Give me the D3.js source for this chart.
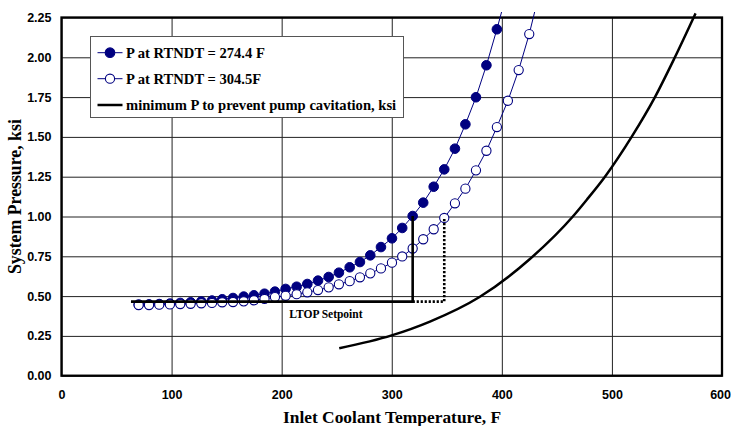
<!DOCTYPE html>
<html>
<head>
<meta charset="utf-8">
<script src="https://cdn.jsdelivr.net/npm/d3@7"></script>
<style>
  body { margin: 0; background: #fff; }
  svg { display: block; font-family: "Liberation Serif", "Times New Roman", serif; font-weight: bold; }
</style>
</head>
<body>
<svg id="chart" width="731" height="426"></svg>
<script>
// Inlet temperatures (F) shared by both P-T curves
const temps = [70.1, 79.5, 88.8, 98.5, 107.9, 117.3, 127.0, 136.7, 146.0, 155.8,
  165.5, 174.8, 184.4, 193.9, 203.6, 213.6, 223.3, 233.0, 242.7, 252.0,
  261.8, 271.1, 280.5, 290.2, 300.2, 309.5, 319.0, 328.6, 338.1, 347.7,
  357.4, 366.9, 376.5, 386.0, 395.5, 405.5, 415.3, 424.9, 434.6];

// P at RTNDT = 274.4 F (filled markers)
const pFilled = [0.447, 0.448, 0.450, 0.453, 0.457, 0.461, 0.466, 0.472, 0.480, 0.488,
  0.497, 0.505, 0.515, 0.528, 0.545, 0.559, 0.576, 0.597, 0.620, 0.647,
  0.681, 0.714, 0.756, 0.808, 0.863, 0.928, 1.003, 1.087, 1.187, 1.296,
  1.426, 1.579, 1.749, 1.950, 2.176, 2.430];

// P at RTNDT = 304.5 F (open markers)
const pOpen = [0.444, 0.444, 0.446, 0.448, 0.450, 0.452, 0.455, 0.457, 0.461, 0.463,
  0.467, 0.474, 0.482, 0.494, 0.502, 0.512, 0.524, 0.538, 0.555, 0.574,
  0.594, 0.618, 0.643, 0.674, 0.710, 0.749, 0.799, 0.857, 0.920, 0.991,
  1.083, 1.175, 1.290, 1.413, 1.562, 1.727, 1.920, 2.146, 2.420];

// minimum P to prevent pump cavitation
const pumpT = [252.3, 299.9, 334.7, 380.1, 425.5, 464.5, 477.0, 493.7, 517.9, 539.1, 557.2, 576.0];
const pumpP = [0.172, 0.253, 0.340, 0.496, 0.733, 1.000, 1.104, 1.250, 1.500, 1.750, 2.000, 2.276];

// LTOP setpoint construction
const ltopStartT = 63.1;
const ltopP = 0.465;
const ltopIdx = 26;      // filled curve reaches 1.0 ksi
const ltopIdxOpen = 29;  // open curve reaches 1.0 ksi

const xTicks = [0, 100, 200, 300, 400, 500, 600];
const yTicks = [0, 0.25, 0.5, 0.75, 1.0, 1.25, 1.5, 1.75, 2.0, 2.25];

const legendLabels = ['P at RTNDT = 274.4 F', 'P at RTNDT = 304.5F',
  'minimum P to prevent pump cavitation, ksi'];

const navy = '#000080';

const svg = d3.select('#chart');

const x = d3.scaleLinear().domain([0, 600]).range([61.5, 722]);
const y = d3.scaleLinear().domain([0, 2.25]).range([375.7, 17.5]);
const plotLeft = x(0), plotRight = x(600), plotTop = y(2.25), plotBottom = y(0);

// clip: series may poke a little above the plot top
svg.append('defs').append('clipPath').attr('id', 'clip')
  .append('rect')
  .attr('x', plotLeft).attr('y', 12)
  .attr('width', plotRight - plotLeft).attr('height', plotBottom - 12);

// Grid lines
svg.append('g')
  .attr('transform', `translate(${plotLeft},0)`)
  .call(d3.axisLeft(y).tickValues(yTicks).tickSize(-(plotRight - plotLeft)).tickFormat(''))
  .call(g => g.select('.domain').remove())
  .call(g => g.selectAll('line').attr('stroke', '#222').attr('stroke-width', 1));

svg.append('g')
  .attr('transform', `translate(0,${plotBottom})`)
  .call(d3.axisBottom(x).tickValues(xTicks).tickSize(-(plotBottom - plotTop)).tickFormat(''))
  .call(g => g.select('.domain').remove())
  .call(g => g.selectAll('line').attr('stroke', '#222').attr('stroke-width', 1));

// Tick labels
svg.append('g')
  .attr('transform', `translate(${plotLeft},0)`)
  .call(d3.axisLeft(y).tickValues(yTicks).tickSize(0).tickPadding(10).tickFormat(d3.format('.2f')))
  .call(g => g.select('.domain').remove())
  .call(g => g.selectAll('text')
    .style('font-family', 'inherit').style('font-weight', 'bold')
    .style('font-size', '12.5px').attr('fill', '#000'));

svg.append('g')
  .attr('transform', `translate(0,${plotBottom})`)
  .call(d3.axisBottom(x).tickValues(xTicks).tickSize(0).tickPadding(14).tickFormat(d3.format('d')))
  .call(g => g.select('.domain').remove())
  .call(g => g.selectAll('text')
    .style('font-family', 'inherit').style('font-weight', 'bold')
    .style('font-size', '12.5px').attr('fill', '#000'))
  // keep the last label inside the page
  .call(g => g.selectAll('.tick').filter(d => d === 600).select('text')
    .attr('text-anchor', 'end').attr('x', 8.5));

// Plot border
svg.append('rect')
  .attr('x', plotLeft).attr('y', plotTop)
  .attr('width', plotRight - plotLeft).attr('height', plotBottom - plotTop)
  .attr('fill', 'none').attr('stroke', '#000').attr('stroke-width', 2.3);

const plot = svg.append('g').attr('clip-path', 'url(#clip)');

const line = d3.line().x(d => x(d[0])).y(d => y(d[1]));
const smooth = d3.line().x(d => x(d[0])).y(d => y(d[1])).curve(d3.curveMonotoneX);

const filledData = pFilled.map((p, i) => [temps[i], p]);
const openData = pOpen.map((p, i) => [temps[i], p]);
const pumpData = pumpT.map((t, i) => [t, pumpP[i]]);

// Series 1: filled
plot.append('path')
  .datum(filledData)
  .attr('d', line)
  .attr('fill', 'none').attr('stroke', navy).attr('stroke-width', 1);

plot.selectAll('.pt-filled')
  .data(filledData)
  .enter()
  .append('circle')
  .attr('class', 'pt-filled')
  .attr('cx', d => x(d[0]))
  .attr('cy', d => y(d[1]))
  .attr('r', 4.8)
  .attr('fill', navy).attr('stroke', navy).attr('stroke-width', 1);

// Series 2: open
plot.append('path')
  .datum(openData)
  .attr('d', line)
  .attr('fill', 'none').attr('stroke', navy).attr('stroke-width', 1);

plot.selectAll('.pt-open')
  .data(openData)
  .enter()
  .append('circle')
  .attr('class', 'pt-open')
  .attr('cx', d => x(d[0]))
  .attr('cy', d => y(d[1]))
  .attr('r', 4.6)
  .attr('fill', '#fff').attr('stroke', navy).attr('stroke-width', 1.1);

// Series 3: pump cavitation limit
plot.append('path')
  .datum(pumpData)
  .attr('d', smooth)
  .attr('fill', 'none').attr('stroke', '#000').attr('stroke-width', 2.5);

// LTOP setpoint lines
const tA = temps[ltopIdx], tB = temps[ltopIdxOpen];
plot.append('path')
  .datum([[ltopStartT, ltopP], [tA, ltopP], [tA, pFilled[ltopIdx]]])
  .attr('d', line)
  .attr('fill', 'none').attr('stroke', '#000').attr('stroke-width', 2.6);

plot.append('path')
  .datum([[tA, ltopP], [tB, ltopP], [tB, pOpen[ltopIdxOpen]]])
  .attr('d', line)
  .attr('fill', 'none').attr('stroke', '#000').attr('stroke-width', 2.6)
  .attr('stroke-dasharray', '2.2,1.8');

svg.append('text')
  .attr('x', x(207)).attr('y', y(0.36))
  .attr('font-size', 11.5)
  .text('LTOP Setpoint');

// Legend
const lg = svg.append('g');
lg.append('rect')
  .attr('x', 90.5).attr('y', 36.5)
  .attr('width', 313).attr('height', 81)
  .attr('fill', '#fff').attr('stroke', '#555').attr('stroke-width', 1);

const rowY = [52.7, 78.7, 105];
rowY.forEach((ry, i) => {
  lg.append('line')
    .attr('x1', 97.5).attr('x2', 122.5).attr('y1', ry).attr('y2', ry)
    .attr('stroke', i === 2 ? '#000' : navy)
    .attr('stroke-width', i === 2 ? 2.5 : 1);
  if (i < 2) {
    lg.append('circle')
      .attr('cx', 110).attr('cy', ry).attr('r', i === 0 ? 4.8 : 4.6)
      .attr('fill', i === 0 ? navy : '#fff')
      .attr('stroke', navy).attr('stroke-width', 1.1);
  }
  lg.append('text')
    .attr('x', 126).attr('y', ry)
    .attr('dy', '0.35em')
    .attr('font-size', 14.6)
    .text(legendLabels[i]);
});

// Axis titles
svg.append('text')
  .attr('x', 392).attr('y', 423)
  .attr('text-anchor', 'middle')
  .attr('font-size', 17.4)
  .text('Inlet Coolant Temperature, F');

svg.append('text')
  .attr('transform', `translate(21,${(plotTop + plotBottom) / 2}) rotate(-90)`)
  .attr('text-anchor', 'middle')
  .attr('font-size', 17.8)
  .text('System Pressure, ksi');
</script>
</body>
</html>
